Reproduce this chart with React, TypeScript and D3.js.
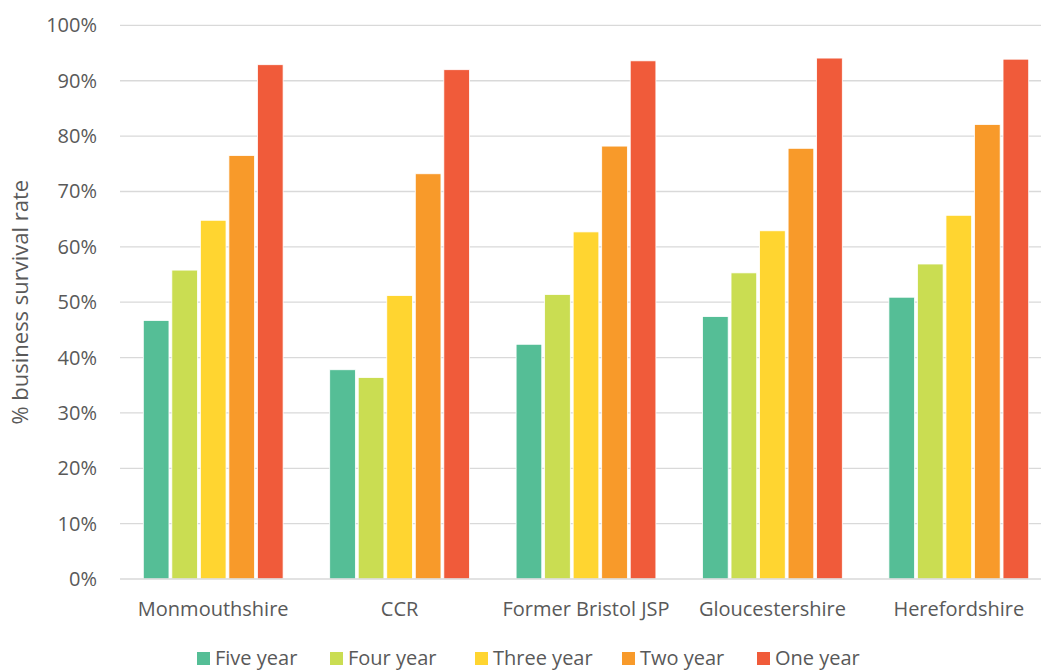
import React from "react";
import * as d3 from "d3";

const categories = ["Monmouthshire", "CCR", "Former Bristol JSP", "Gloucestershire", "Herefordshire"];
const seriesNames = ["Five year", "Four year", "Three year", "Two year", "One year"];
const seriesColors = ["#55BE96", "#CADD52", "#FFD530", "#F89A2A", "#F05B3A"];
const fiveYear = [46.7, 37.8, 42.4, 47.4, 50.9];
const fourYear = [55.8, 36.4, 51.4, 55.3, 56.9];
const threeYear = [64.8, 51.2, 62.7, 62.9, 65.7];
const twoYear = [76.5, 73.2, 78.2, 77.8, 82.1];
const oneYear = [92.9, 92.0, 93.6, 94.1, 93.9];
const seriesValues = [fiveYear, fourYear, threeYear, twoYear, oneYear];
const yTicks = [0, 10, 20, 30, 40, 50, 60, 70, 80, 90, 100];

export default function App() {
  const W = 1041, H = 672;
  const x0 = 120, x1 = 1052, yTop = 25.4, yBot = 579;
  const font = "'Open Sans', sans-serif";
  const textColor = "#595959";

  const x = d3.scaleBand<string>().domain(categories).range([x0, x1]).paddingInner(0.25).paddingOuter(0.125);
  const xi = d3.scaleBand<string>().domain(seriesNames).range([0, x.bandwidth()]).paddingInner(0.1).paddingOuter(0);
  const y = d3.scaleLinear().domain([0, 100]).range([yBot, yTop]);

  const legendX = [197, 330, 475, 622, 757];

  return (
    <svg width={W} height={H} style={{ position: "absolute", left: 0, top: 0, background: "#fff" }} fontFamily={font}>
      {yTicks.map((t) => (
        <g key={t}>
          {t > 0 && <line x1={x0} x2={W} y1={y(t)} y2={y(t)} stroke="#d9d9d9" strokeWidth={1.3} />}
          <text x={97} y={y(t)} dy="0.35em" textAnchor="end" fontSize={20} fill={textColor}>{t}%</text>
        </g>
      ))}
      {categories.map((c, ci) => (
        <g key={c} transform={`translate(${x(c)},0)`}>
          {seriesNames.map((s, si) => {
            const v = seriesValues[si][ci];
            return (
              <rect key={s} x={xi(s)} y={y(v)} width={xi.bandwidth()} height={y(0) - y(v)}
                fill={seriesColors[si]} stroke="#fff" strokeWidth={0.8} />
            );
          })}
          <text x={x.bandwidth() / 2} y={616} textAnchor="middle" fontSize={20} fill={textColor}>{c}</text>
        </g>
      ))}
      <line x1={x0} x2={W} y1={yBot} y2={yBot} stroke="#d9d9d9" strokeWidth={1.5} />
      <text transform={`translate(28,${(yTop + yBot) / 2}) rotate(-90)`} textAnchor="middle" fontSize={22} fill={textColor}>% business survival rate</text>
      {seriesNames.map((s, i) => (
        <g key={s} transform={`translate(${legendX[i]},0)`}>
          <rect x={0} y={652} width={13} height={13} fill={seriesColors[i]} />
          <text x={18} y={665} fontSize={20} fill={textColor}>{s}</text>
        </g>
      ))}
    </svg>
  );
}
